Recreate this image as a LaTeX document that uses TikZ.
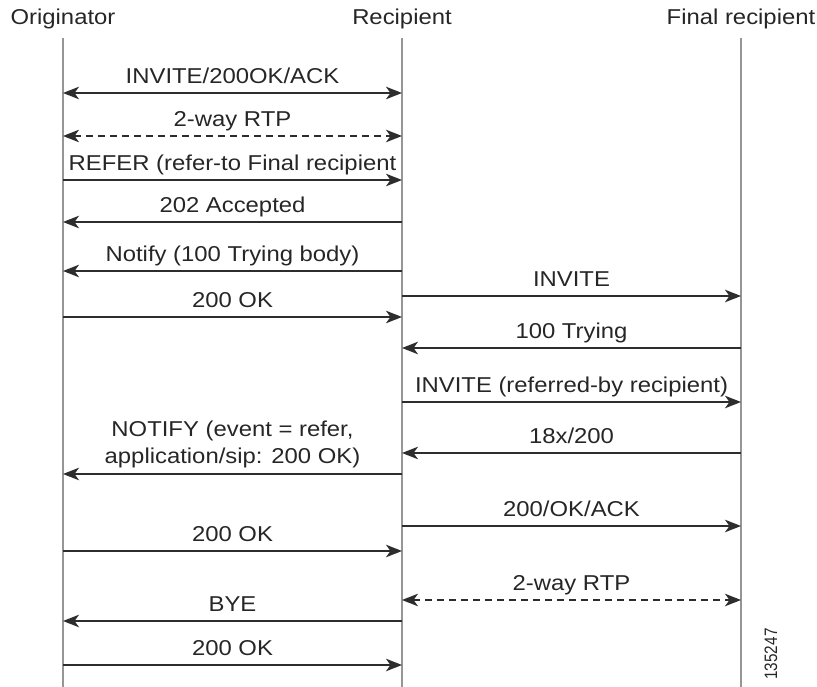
\documentclass[tikz,border=0pt]{standalone}
\usepackage{fontspec}
\newfontfamily\seqfont[FakeStretch=1.11]{Liberation Sans}
\newfontfamily\idfont[FakeStretch=0.85]{Liberation Sans}
\usepackage{xcolor}
\definecolor{lifegray}{RGB}{150, 150, 150}
\definecolor{msgdark}{RGB}{45, 45, 45}
\usepackage{tikz}
\usetikzlibrary{arrows.meta}

\begin{document}
\begin{tikzpicture}[x=1pt, y=-1pt,
  font=\seqfont\fontsize{21.5}{27}\selectfont,
  >={Stealth[length=16pt, width=12.5pt, inset=4.5pt]},
  party/.style={anchor=base, inner sep=0pt, text=black!85},
  lifeline/.style={lifegray, line width=2.4pt},
  msg/.style={msgdark, line width=1.6pt},
  rtp/.style={msg, dash pattern=on 7pt off 5pt},
  lbl/.style={midway, anchor=base, yshift=9.5pt, inner sep=0pt, text=black!85}]

  \useasboundingbox (0,0) rectangle (817,687);

  % Parties
  \node[party] (orig) at (63,25) {Originator};
  \node[party] (recip) at (402,25) {Recipient};
  \node[party] (final) at (741,25) {Final recipient};

  % Lifelines
  \coordinate (origEnd) at (63,687);
  \coordinate (recipEnd) at (402,687);
  \coordinate (finalEnd) at (741,687);
  \draw[lifeline] ([yshift=-8pt]orig.south) -- (origEnd);
  \draw[lifeline] ([yshift=-8pt]recip.south) -- (recipEnd);
  \draw[lifeline] ([yshift=-8pt]final.south) -- (finalEnd);

  % Message points on the lifelines
  \foreach \n/\y in {1/93, 2/136, 3/180, 4/222, 5/271, 6/296, 7/317, 8/348,
                     9/402, 10/453, 11/474, 12/526, 13/551, 14/600, 15/621, 16/665} {
    \coordinate (o\n) at (63,\y);
    \coordinate (r\n) at (402,\y);
    \coordinate (f\n) at (741,\y);
  }

  % Messages
  \draw[msg, <->] (o1) -- node[lbl] (m1) {INVITE/200OK/ACK} (r1);
  \draw[rtp, <->] (o2) -- node[lbl] (m2) {2-way RTP} (r2);
  \draw[msg, ->] (o3) -- node[lbl] (m3) {REFER (refer-to Final recipient} (r3);
  \draw[msg, ->] (r4) -- node[lbl] (m4) {202 Accepted} (o4);
  \draw[msg, ->] (r5) -- node[lbl] (m5) {Notify (100 Trying body)} (o5);
  \draw[msg, ->] (r6) -- node[lbl] (m6) {INVITE} (f6);
  \draw[msg, ->] (o7) -- node[lbl] (m7) {200 OK} (r7);
  \draw[msg, ->] (f8) -- node[lbl] (m8) {100 Trying} (r8);
  \draw[msg, ->] (r9) -- node[lbl] (m9) {INVITE (referred-by recipient)} (f9);
  \draw[msg, ->] (f10) -- node[lbl] (m10) {18x/200} (r10);
  \draw[msg, ->] (r11) -- node[midway, anchor=south, yshift=5.5pt, inner sep=0pt,
    align=center, text=black!85] (m11) {NOTIFY (event = refer,\\application/sip: 200 OK)} (o11);
  \draw[msg, ->] (r12) -- node[lbl] (m12) {200/OK/ACK} (f12);
  \draw[msg, ->] (o13) -- node[lbl] (m13) {200 OK} (r13);
  \draw[rtp, <->] (r14) -- node[lbl] (m14) {2-way RTP} (f14);
  \draw[msg, ->] (r15) -- node[lbl] (m15) {BYE} (o15);
  \draw[msg, ->] (o16) -- node[lbl] (m16) {200 OK} (r16);

  % Figure number
  \node[rotate=90, inner sep=0pt, text=black!85, font=\idfont\fontsize{18}{20}\selectfont]
    (figid) at (771,654) {135247};
\end{tikzpicture}
\end{document}
